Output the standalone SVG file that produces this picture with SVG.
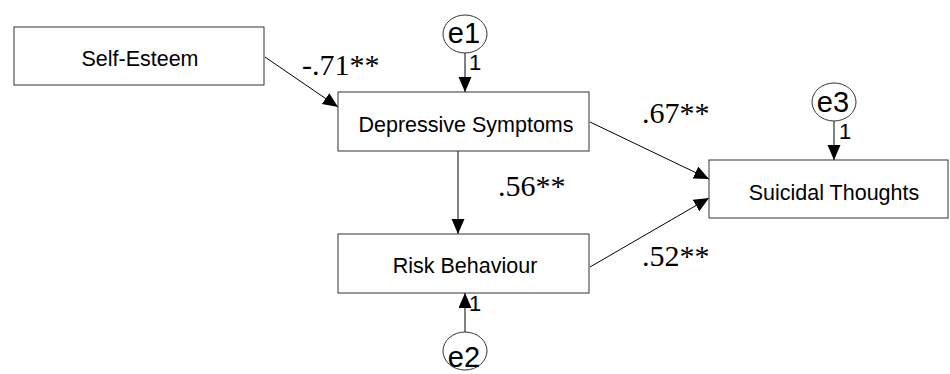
<svg xmlns="http://www.w3.org/2000/svg" width="950" height="374" viewBox="0 0 950 374">
<defs>
<style>
.box{fill:#fff;stroke:#333;stroke-width:1}
.err{fill:#fff;stroke:#333;stroke-width:1}
.lbl{font-family:"Liberation Sans",Arial,sans-serif;font-size:21.5px;fill:#000;text-anchor:middle}
.elbl{font-family:"Liberation Sans",Arial,sans-serif;font-size:29px;fill:#000;text-anchor:middle}
.one{font-family:"Liberation Sans",Arial,sans-serif;font-size:22px;fill:#000}
.coef{font-family:"Liberation Serif","Times New Roman",serif;font-size:30px;fill:#000}
.con{stroke:#000;stroke-width:1;fill:none;marker-end:url(#ah)}
</style>
<marker id="ah" markerUnits="userSpaceOnUse" markerWidth="16" markerHeight="14" refX="15" refY="6.5" orient="auto">
<path d="M0,0 L15,6.5 L0,13 Z" fill="#000"/>
</marker>
</defs>
<rect width="950" height="374" fill="#fff"/>
<g id="connectors">
<line class="con" x1="265" y1="57" x2="338" y2="107"/>
<line class="con" x1="458" y1="151" x2="458" y2="234"/>
<line class="con" x1="590" y1="122" x2="709" y2="179"/>
<line class="con" x1="590" y1="267" x2="709" y2="198"/>
<line class="con" x1="465" y1="53" x2="465" y2="92"/>
<line class="con" x1="465" y1="332" x2="465" y2="293"/>
<line class="con" x1="834" y1="121" x2="834" y2="160"/>
</g>
<g id="self-esteem">
<rect class="box" x="14" y="27" width="250" height="58"/>
<text class="lbl" x="140" y="66">Self-Esteem</text>
</g>
<g id="depressive-symptoms">
<rect class="box" x="338" y="92" width="251" height="59"/>
<text class="lbl" x="466" y="132">Depressive Symptoms</text>
</g>
<g id="risk-behaviour">
<rect class="box" x="338" y="234" width="251" height="59"/>
<text class="lbl" x="465" y="273">Risk Behaviour</text>
</g>
<g id="suicidal-thoughts">
<rect class="box" x="709" y="160" width="239" height="58"/>
<text class="lbl" x="834" y="200">Suicidal Thoughts</text>
</g>
<g id="e1">
<ellipse class="err" cx="465" cy="34" rx="22" ry="19"/>
<text class="elbl" x="464" y="43">e1</text>
<text class="one" x="469" y="70">1</text>
</g>
<g id="e2">
<ellipse class="err" cx="465" cy="351" rx="22" ry="19"/>
<text class="elbl" x="464" y="367">e2</text>
<text class="one" x="469" y="311">1</text>
</g>
<g id="e3">
<ellipse class="err" cx="834" cy="102" rx="22" ry="19"/>
<text class="elbl" x="833" y="112">e3</text>
<text class="one" x="839" y="139">1</text>
</g>
<g id="coefficients">
<text class="coef" x="302" y="75">-.71**</text>
<text class="coef" x="498" y="196">.56**</text>
<text class="coef" x="642" y="123">.67**</text>
<text class="coef" x="642" y="266">.52**</text>
</g>
</svg>
